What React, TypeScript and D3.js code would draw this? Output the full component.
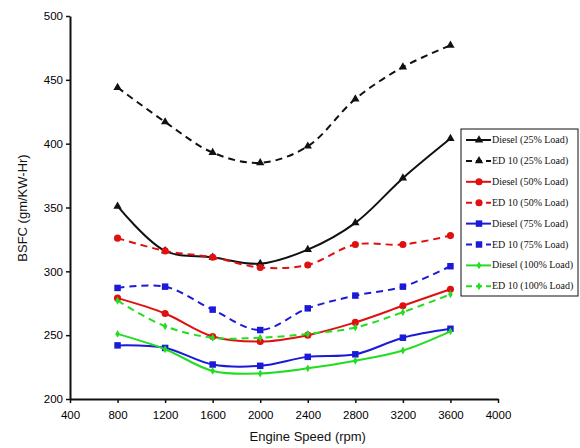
import React, { useEffect, useRef } from 'react';
import * as d3 from 'd3';

const speeds = [800, 1200, 1600, 2000, 2400, 2800, 3200, 3600];

const diesel25 = [351, 316, 311, 306, 317, 338, 373, 404];
const ed10_25 = [444, 417, 393, 385, 398, 435, 460, 477];
const diesel50 = [279, 267, 249, 245, 250, 260, 273, 286];
const ed10_50 = [326, 316, 311, 303, 305, 321, 321, 328];
const diesel75 = [242, 240, 227, 226, 233, 235, 248, 255];
const ed10_75 = [287, 288, 270, 254, 271, 281, 288, 304];
const diesel100 = [251, 239, 222, 220, 224, 230, 238, 253];
const ed10_100 = [277, 257, 248, 248, 251, 256, 268, 282];

const xTicks = [400, 800, 1200, 1600, 2000, 2400, 2800, 3200, 3600, 4000];
const yTicks = [200, 250, 300, 350, 400, 450, 500];

const series = [
  { name: 'Diesel (25% Load)', values: diesel25, color: '#111', dashed: false, marker: 'triangle' },
  { name: 'ED 10 (25% Load)', values: ed10_25, color: '#111', dashed: true, marker: 'triangle' },
  { name: 'Diesel (50% Load)', values: diesel50, color: '#e01010', dashed: false, marker: 'circle' },
  { name: 'ED 10 (50% Load)', values: ed10_50, color: '#e01010', dashed: true, marker: 'circle' },
  { name: 'Diesel (75% Load)', values: diesel75, color: '#1a1ad8', dashed: false, marker: 'square' },
  { name: 'ED 10 (75% Load)', values: ed10_75, color: '#1a1ad8', dashed: true, marker: 'square' },
  { name: 'Diesel (100% Load)', values: diesel100, color: '#22dd22', dashed: false, marker: 'diamond' },
  { name: 'ED 10 (100% Load)', values: ed10_100, color: '#22dd22', dashed: true, marker: 'diamond' },
];

const symbolFor = (m: string) => {
  if (m === 'triangle') return d3.symbol(d3.symbolTriangle, 30)();
  if (m === 'circle') return d3.symbol(d3.symbolCircle, 40)();
  if (m === 'square') return d3.symbol(d3.symbolSquare, 42)();
  return d3.symbol(d3.symbolDiamond, 18)();
};

const App = () => {
  const ref = useRef<SVGSVGElement>(null);

  useEffect(() => {
    const width = 580;
    const height = 448;
    const margin = { top: 16, right: 82, bottom: 49, left: 70 };
    const innerWidth = width - margin.left - margin.right;
    const innerHeight = height - margin.top - margin.bottom;

    const svg = d3.select(ref.current);
    svg.selectAll('*').remove();

    const chart = svg.append('g')
      .attr('transform', `translate(${margin.left}, ${margin.top})`);

    const x = d3.scaleLinear().domain([400, 4000]).range([0, innerWidth]);
    const y = d3.scaleLinear().domain([200, 500]).range([innerHeight, 0]);

    const tickFont = "'Liberation Sans', Arial, sans-serif";

    const xAxis = chart.append('g')
      .attr('transform', `translate(0, ${innerHeight})`)
      .call(d3.axisBottom(x).tickValues(xTicks).tickFormat(d3.format('d')).tickSize(4).tickSizeOuter(0));
    const yAxis = chart.append('g')
      .call(d3.axisLeft(y).tickValues(yTicks).tickSize(4).tickSizeOuter(0));

    [xAxis, yAxis].forEach(a => {
      a.select('.domain').attr('stroke', '#111').attr('stroke-width', 2);
      a.selectAll('.tick line').attr('stroke', '#111').attr('stroke-width', 1.5);
      a.selectAll('.tick text')
        .attr('fill', '#000')
        .style('font-family', tickFont)
        .style('font-size', '11.5px');
    });
    xAxis.selectAll('.tick text').attr('dy', '1.1em');

    const line = d3.line<number>()
      .x((_, i) => x(speeds[i]))
      .y(d => y(d))
      .curve(d3.curveCatmullRom.alpha(0.5));

    series.forEach(s => {
      chart.append('path')
        .datum(s.values)
        .attr('fill', 'none')
        .attr('stroke', s.color)
        .attr('stroke-width', 2)
        .attr('stroke-dasharray', s.dashed ? '7,5' : null)
        .attr('d', line);

      chart.selectAll(null)
        .data(s.values)
        .join('path')
        .attr('transform', (d, i) => `translate(${x(speeds[i])}, ${y(d)})`)
        .attr('d', symbolFor(s.marker))
        .attr('fill', s.color);
    });

    // Axis titles
    svg.append('text')
      .attr('x', margin.left + x(2400))
      .attr('y', 441)
      .attr('text-anchor', 'middle')
      .attr('fill', '#111')
      .style('font-family', tickFont)
      .style('font-size', '13px')
      .text('Engine Speed (rpm)');

    svg.append('text')
      .attr('transform', 'rotate(-90)')
      .attr('x', -208)
      .attr('y', 27)
      .attr('text-anchor', 'middle')
      .attr('fill', '#111')
      .style('font-family', tickFont)
      .style('font-size', '13px')
      .text('BSFC (gm/KW-Hr)');

    // Legend
    const legend = svg.append('g').attr('transform', 'translate(461, 129)');
    legend.append('rect')
      .attr('width', 117)
      .attr('height', 167)
      .attr('fill', '#fff')
      .attr('stroke', '#111')
      .attr('stroke-width', 1);

    series.forEach((s, i) => {
      const row = legend.append('g').attr('transform', `translate(0, ${11 + i * 20.9})`);
      row.append('line')
        .attr('x1', 5).attr('x2', 30)
        .attr('stroke', s.color)
        .attr('stroke-width', 2)
        .attr('stroke-dasharray', s.dashed ? '6,4' : null);
      row.append('path')
        .attr('transform', 'translate(18, 0)')
        .attr('d', symbolFor(s.marker))
        .attr('fill', s.color);
      row.append('text')
        .attr('x', 31)
        .attr('y', 3)
        .attr('fill', '#111')
        .style('font-family', "'Liberation Serif', 'Times New Roman', serif")
        .style('font-size', '10px')
        .text(s.name);
    });
  }, []);

  return (
    <svg
      ref={ref}
      width={580}
      height={448}
      style={{ position: 'absolute', left: 0, top: 0, background: '#fff' }}
    />
  );
};

export default App;
